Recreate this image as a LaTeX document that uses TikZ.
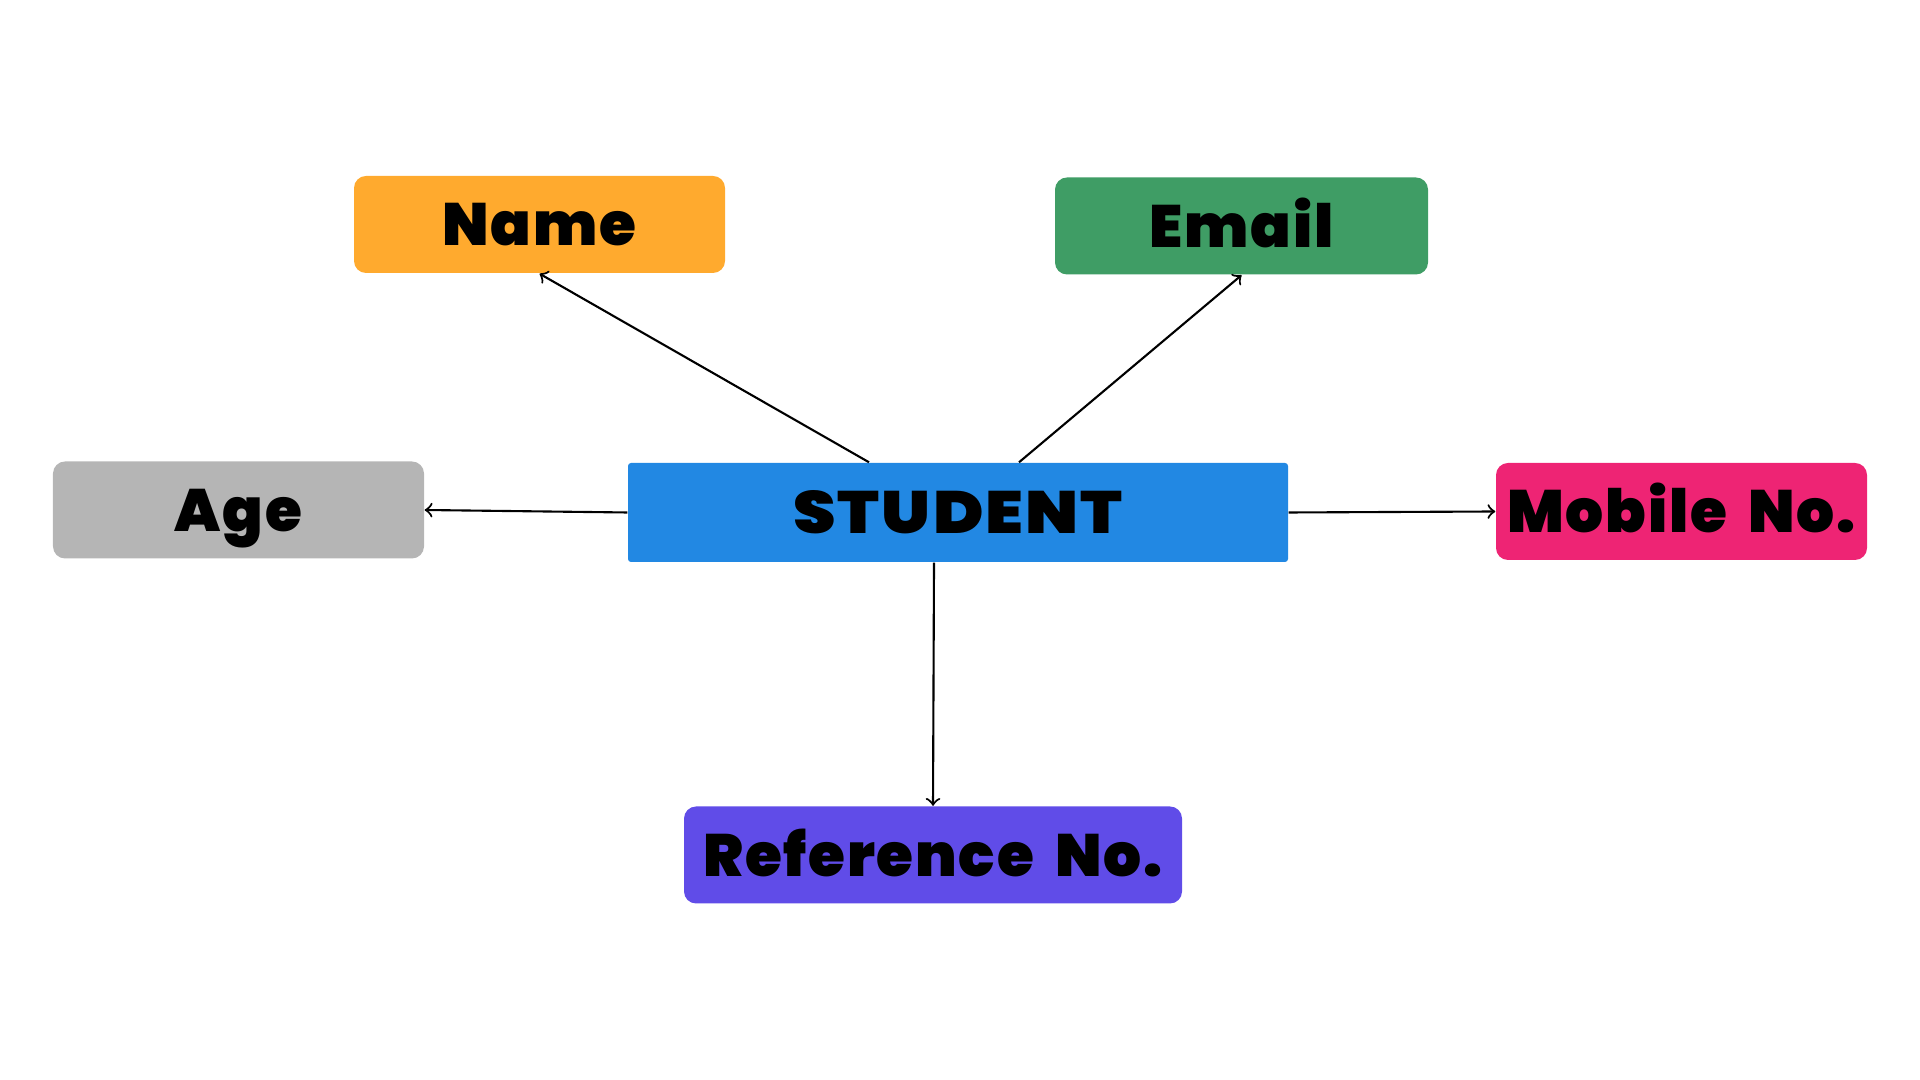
\documentclass[tikz,border=0pt]{standalone}
\usepackage{fontspec}
\setmainfont{Poppins Black}[LetterSpace = 3, WordSpace = 1.8]
\usetikzlibrary{calc}

\definecolor{nameorange}{RGB}{255,170,46}
\definecolor{emailgreen}{RGB}{63,157,101}
\definecolor{agegray}{RGB}{181,181,181}
\definecolor{studentblue}{RGB}{34,136,227}
\definecolor{mobilepink}{RGB}{238,36,116}
\definecolor{refpurple}{RGB}{96,76,232}

\tikzset{
	attr/.style = {rounded corners = 1.2mm, minimum width = 3.71cm, minimum height = 0.97cm,
		inner sep = 0pt, text height = 12pt, text depth = 0pt,
		font = \fontsize{17}{20}\selectfont, text = black},
	link/.style = {-to, line width = 0.6pt, black}
}

\begin{document}
\begin{tikzpicture}
		\useasboundingbox (0,0) rectangle (19.2,10.8);
		
		\node [attr, fill = studentblue, rounded corners = 0.3mm, minimum width = 6.6cm, minimum height = 0.99cm] (student) at (9.58,5.675) {\scalebox{1.14}[1]{STUDENT}};
		
		\node [attr, fill = nameorange] (name) at (5.395,8.555) {Name};
		\node [attr, fill = emailgreen, minimum width = 3.73cm] (email) at (12.415,8.54) {Email};
		\node [attr, fill = agegray] (age) at (2.385,5.70) {Age};
		\node [attr, fill = mobilepink] (mobile) at (16.815,5.685) {Mobile No.};
		\node [attr, fill = refpurple, minimum width = 4.98cm] (ref) at (9.33,2.25) {Reference No.};
		
		\begin{scope}[link]
			\draw ([xshift = -0.89cm]student.north) -- (name.south);
			\draw ([xshift = 0.61cm]student.north) -- (email.south);
			\draw (student.west) -- (age.east);
			\draw (student.east) -- (mobile.west);
			\draw ([xshift = -0.24cm]student.south) -- (ref.north);
		\end{scope}
	\end{tikzpicture}
\end{document}
